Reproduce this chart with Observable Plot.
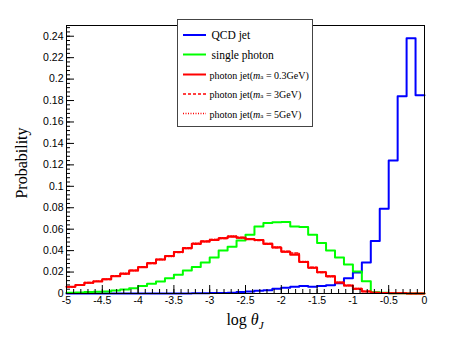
<!DOCTYPE html>
<html><head><meta charset="utf-8">
<script src="https://cdn.jsdelivr.net/npm/d3@7"></script>
<script src="https://cdn.jsdelivr.net/npm/@observablehq/plot@0.6"></script>
<style>body{margin:0;background:#fff} #chart svg{display:block}</style>
</head><body><div id="chart"></div>
<script>
// Histogram binning: 40 bins of width 0.125 over [-5, 0]
const binStart = -5;
const binWidth = 0.125;

const qcdJet = [0,0,0,0,0,0,0,0,0,0,0,0,0,0.0001,0.0002,0.0003,0.0004,0.0005,0.0008,0.0013,
  0.0019,0.0025,0.0031,0.0044,0.0053,0.0062,0.0069,0.0064,0.0069,0.0078,
  0.0095,0.0142,0.0195,0.029,0.049,0.079,0.124,0.184,0.238,0.185];
const singlePhoton = [0.0008,0.001,0.0013,0.0016,0.0019,0.0028,0.0037,0.005,0.0069,0.009,
  0.0112,0.0143,0.0174,0.0215,0.0248,0.029,0.0336,0.040,0.0437,0.0495,
  0.0547,0.0625,0.0658,0.0664,0.0668,0.0625,0.0620,0.0547,0.047,0.040,
  0.0336,0.027,0.0205,0.0115,0.0012,0.0006,0.0003,0.0002,0.0001,0];
const photonJet03 = [0.0062,0.0080,0.0100,0.0112,0.0133,0.0162,0.0185,0.0215,0.0246,0.0283,
  0.0317,0.0349,0.0386,0.0423,0.0464,0.0485,0.0500,0.0516,0.0529,0.0520,
  0.0507,0.0499,0.0463,0.0430,0.0390,0.0362,0.0295,0.0240,0.0198,0.0160,
  0.0103,0.0075,0.0044,0.0019,0.0008,0.0005,0.0003,0.0002,0.0001,0.0001];
const photonJet3 = [0.0064,0.0079,0.0102,0.0114,0.0131,0.0165,0.0183,0.0218,0.0249,0.0280,
  0.0320,0.0352,0.0383,0.0427,0.0460,0.0489,0.0504,0.0512,0.0532,0.0524,
  0.0510,0.0495,0.0467,0.0427,0.0394,0.0378,0.0292,0.0244,0.0195,0.0163,
  0.0100,0.0077,0.0042,0.0020,0.0009,0.0004,0.0003,0.0002,0.0001,0.0001];
const photonJet5 = [0.0060,0.0082,0.0098,0.0115,0.0135,0.0160,0.0188,0.0212,0.0250,0.0286,
  0.0314,0.0346,0.0390,0.0420,0.0468,0.0482,0.0503,0.0520,0.0536,0.0517,
  0.0511,0.0502,0.0460,0.0433,0.0387,0.0365,0.0298,0.0238,0.0201,0.0157,
  0.0106,0.0073,0.0046,0.0018,0.0007,0.0005,0.0002,0.0002,0.0001,0];

const xTicks = [-5,-4.5,-4,-3.5,-3,-2.5,-2,-1.5,-1,-0.5,0];
const yTicks = [0,0.02,0.04,0.06,0.08,0.1,0.12,0.14,0.16,0.18,0.2,0.22,0.24];
const xMinorStep = 0.1;
const yMinorStep = 0.004;

const legendLabels = ["QCD jet","single photon","photon jet(m_a = 0.3GeV)","photon jet(m_a = 3GeV)","photon jet(m_a = 5GeV)"];

function steps(vals) {
  return vals.flatMap((v, i) => [
    {x: binStart + i * binWidth, y: v},
    {x: binStart + (i + 1) * binWidth, y: v}
  ]);
}

const W = 458, H = 343, mL = 66, mR = 34, mT = 25, mB = 50;
const plotW = W - mL - mR, plotH = H - mT - mB;
const xMinor = d3.range(-5, 0.0001, xMinorStep);
const yMinor = d3.range(0, 0.2501, yMinorStep);

const chart = Plot.plot({
  width: W, height: H,
  marginLeft: mL, marginRight: mR, marginTop: mT, marginBottom: mB,
  style: {background: "white", fontFamily: "'Liberation Sans', Arial, sans-serif", color: "black"},
  x: {domain: [-5, 0]},
  y: {domain: [0, 0.25]},
  marks: [
    Plot.line(steps(qcdJet), {x: "x", y: "y", stroke: "#0000ff", strokeWidth: 2}),
    Plot.line(steps(singlePhoton), {x: "x", y: "y", stroke: "#00ff00", strokeWidth: 2}),
    Plot.line(steps(photonJet5), {x: "x", y: "y", stroke: "#ff0000", strokeWidth: 1.5, strokeDasharray: "1,1.5"}),
    Plot.line(steps(photonJet3), {x: "x", y: "y", stroke: "#ff0000", strokeWidth: 1.5, strokeDasharray: "3,2"}),
    Plot.line(steps(photonJet03), {x: "x", y: "y", stroke: "#ff0000", strokeWidth: 2}),
    Plot.tickX(xMinor, {x: d => d, insetTop: plotH - 4, stroke: "black"}),
    Plot.tickX(xTicks, {x: d => d, insetTop: plotH - 8, stroke: "black"}),
    Plot.tickY(yMinor, {y: d => d, insetRight: plotW - 4, stroke: "black"}),
    Plot.tickY(yTicks, {y: d => d, insetRight: plotW - 8, stroke: "black"}),
    Plot.axisX({ticks: xTicks, tickSize: 0, tickPadding: 3, tickFormat: d => String(d), fontSize: 10.5, label: null}),
    Plot.axisY({ticks: yTicks, tickSize: 0, tickPadding: 3, tickFormat: d => String(d), fontSize: 10.5, label: null}),
    Plot.frame({stroke: "black"})
  ]
});
document.getElementById("chart").appendChild(chart);

const svg = d3.select(chart);
const serif = "'Liberation Serif', 'Times New Roman', serif";

svg.append("text")
  .attr("transform", "translate(21,163) rotate(-90)")
  .attr("text-anchor", "middle")
  .attr("dominant-baseline", "central")
  .style("font-family", serif).style("font-size", "16px").attr("fill", "black")
  .text("Probability");

const xl = svg.append("text")
  .attr("x", 245).attr("y", 325)
  .attr("text-anchor", "middle")
  .style("font-family", serif).style("font-size", "16px").attr("fill", "black");
xl.append("tspan").text("log ");
xl.append("tspan").style("font-style", "italic").text("θ");
xl.append("tspan").attr("dy", 4).style("font-style", "italic").style("font-size", "11px").text("J");

// Legend
const lg = svg.append("g").attr("text-anchor", "start");
lg.append("rect").attr("x", 177.5).attr("y", 19.5).attr("width", 135).attr("height", 107)
  .attr("fill", "white").attr("stroke", "#444").attr("stroke-width", 1);
const rowsY = [35, 54.5, 74.5, 94, 113.5];
const legendStyles = [
  {stroke: "#0000ff", dash: null, w: 2},
  {stroke: "#00ff00", dash: null, w: 2},
  {stroke: "#ff0000", dash: null, w: 2},
  {stroke: "#ff0000", dash: "3,2", w: 1.5},
  {stroke: "#ff0000", dash: "1,1.5", w: 1.5}
];
legendLabels.forEach((lab, i) => {
  const y = rowsY[i], s = legendStyles[i];
  lg.append("line").attr("x1", 183).attr("x2", 206).attr("y1", y).attr("y2", y)
    .attr("stroke", s.stroke).attr("stroke-width", s.w).attr("stroke-dasharray", s.dash);
  const t = lg.append("text").attr("x", i < 2 ? 211.5 : 209.5).attr("y", y)
    .attr("text-anchor", "start")
    .attr("dominant-baseline", "central").attr("fill", "black")
    .style("font-family", serif).style("font-size", i < 2 ? "11.5px" : "10px");
  const m = lab.match(/^(.*)\(m_a = (.*)\)$/);
  if (m) {
    t.append("tspan").text(m[1] + "(");
    t.append("tspan").style("font-style", "italic").text("m");
    t.append("tspan").attr("dy", 2).style("font-size", "7px").text("a");
    t.append("tspan").attr("dy", -2).text(" = " + m[2] + ")");
  } else {
    t.text(lab);
  }
});
</script>
</body></html>
